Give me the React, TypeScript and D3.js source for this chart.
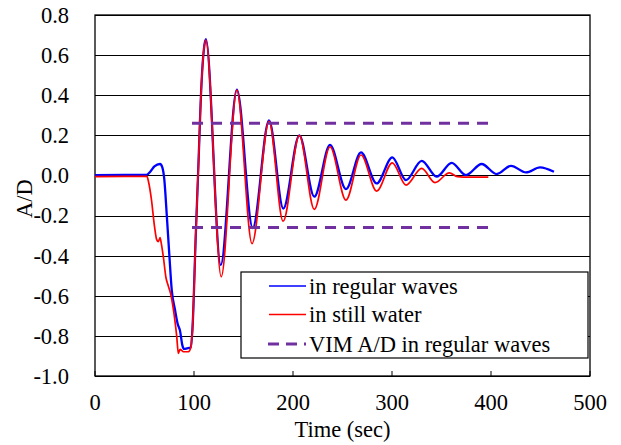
import React from "react";
import * as d3 from "d3";

// ---- data ----
const xTicks = [0, 100, 200, 300, 400, 500];
const yTicks = [-1.0, -0.8, -0.6, -0.4, -0.2, 0.0, 0.2, 0.4, 0.6, 0.8];

// A/D in regular waves (time sec, A/D)
const regularWaves: [number, number][] = [
  [0, 0.002], [30, 0.003], [52, 0.003], [56, 0.02], [60, 0.045], [65.7, 0.057],
  [68, 0.04], [70, -0.02], [72.4, -0.19], [75, -0.39], [77.5, -0.57], [80.8, -0.67],
  [83.5, -0.74], [85.9, -0.775], [88.2, -0.846], [90, -0.865], [93, -0.862],
  [96.5, -0.858], [98.5, -0.76], [101.7, -0.31], [104.3, 0.03], [107.5, 0.45],
  [110, 0.63], [112, 0.679], [127, -0.447], [143.3, 0.428], [159.3, -0.262],
  [175.8, 0.275], [190.2, -0.165], [206.4, 0.2], [221.5, -0.106], [237.4, 0.152],
  [253.5, -0.068], [268.7, 0.115], [284.5, -0.04], [300.3, 0.09], [314.1, -0.023],
  [330, 0.073], [345.1, -0.006], [360.3, 0.063], [374.7, 0.002], [390.6, 0.057],
  [405.7, 0.007], [420.2, 0.048], [435.4, 0.015], [449.5, 0.04], [463.6, 0.018],
];

// A/D in still water
const stillWater: [number, number][] = [
  [0, -0.006], [30, -0.005], [52.5, -0.005], [54, -0.03], [57, -0.12], [60, -0.25],
  [62.3, -0.32], [64, -0.33], [65.7, -0.31], [67, -0.34], [69, -0.405], [71.7, -0.51],
  [74, -0.55], [76.4, -0.59], [80.1, -0.7], [82.5, -0.8], [84.2, -0.887],
  [85.9, -0.867], [87.5, -0.872], [89.2, -0.879], [94.3, -0.879], [97, -0.854],
  [98.5, -0.76], [101.7, -0.31], [104.3, 0.03], [107.5, 0.45], [110, 0.63],
  [112, 0.675], [127.5, -0.505], [143.3, 0.425], [158.6, -0.34], [175.8, 0.27],
  [190, -0.228], [206.4, 0.2], [221.5, -0.169], [237.4, 0.143], [253.5, -0.123],
  [268.7, 0.102], [284.5, -0.078], [300.3, 0.063], [314.1, -0.048], [330, 0.035],
  [343.4, -0.036], [357.9, 0.013], [366, -0.006], [372, -0.008], [397.3, -0.008],
];

// VIM A/D in regular waves (band)
const vimLevels = [0.26, -0.26];
const vimRange = [98, 397];

const legendLabels = ["in regular waves", "in still water", "VIM A/D in regular waves"];

// ---- layout ----
const W = 621;
const H = 445;
const L = 95;
const R = 590;
const T = 15;
const B = 376;
const FONT = "'Liberation Serif', 'Times New Roman', serif";
const FS = 22.5;

export default function App() {
  const x = d3.scaleLinear().domain([0, 500]).range([L, R]);
  const y = d3.scaleLinear().domain([-1.0, 0.8]).range([B, T]);
  const line = d3
    .line<[number, number]>()
    .x((d) => x(d[0]))
    .y((d) => y(d[1]))
    .curve(d3.curveMonotoneX);

  const purple = "#7030A0";
  const legX = 241;
  const legY = 272;
  const legW = 347;
  const legH = 86;
  const rows = [286, 314.5, 344];

  return (
    <svg
      width={W}
      height={H}
      style={{ position: "absolute", left: 0, top: 0, background: "#fff" }}
      fontFamily={FONT}
    >
      <rect x={0} y={0} width={W} height={H} fill="#fff" />
      {/* gridlines */}
      {yTicks.map((t) => (
        <line
          key={"g" + t}
          x1={L}
          x2={R}
          y1={Math.round(y(t)) + 0.5}
          y2={Math.round(y(t)) + 0.5}
          stroke="#000"
          strokeWidth={1}
        />
      ))}
      {/* x ticks inward */}
      {xTicks.map((t) => (
        <line
          key={"xt" + t}
          x1={x(t)}
          x2={x(t)}
          y1={B}
          y2={B - 5}
          stroke="#000"
          strokeWidth={1}
        />
      ))}
      {/* plot frame */}
      <rect x={L} y={T} width={R - L} height={B - T} fill="none" stroke="#000" strokeWidth={1.3} />

      {/* series */}
      <path d={line(regularWaves) || ""} fill="none" stroke="#0000FF" strokeWidth={2.3} strokeLinejoin="round" />
      <path d={line(stillWater) || ""} fill="none" stroke="#FF0000" strokeWidth={1.7} strokeLinejoin="round" />
      {vimLevels.map((v) => (
        <line
          key={"v" + v}
          x1={x(vimRange[0])}
          x2={x(vimRange[1])}
          y1={y(v)}
          y2={y(v)}
          stroke={purple}
          strokeWidth={3}
          strokeDasharray="11,8"
        />
      ))}

      {/* y tick labels */}
      {yTicks.map((t) => (
        <text
          key={"yl" + t}
          x={69}
          y={y(t)}
          dy="0.35em"
          textAnchor="end"
          fontSize={FS}
          fill="#000"
        >
          {t.toFixed(1)}
        </text>
      ))}
      {/* x tick labels */}
      {xTicks.map((t) => (
        <text key={"xl" + t} x={x(t)} y={410} textAnchor="middle" fontSize={FS} fill="#000">
          {t}
        </text>
      ))}
      {/* axis titles */}
      <text x={(L + R) / 2} y={437} textAnchor="middle" fontSize={FS} fill="#000">
        Time (sec)
      </text>
      <text
        transform={`translate(32, ${(T + B) / 2 + 3}) rotate(-90)`}
        textAnchor="middle"
        fontSize={FS}
        fill="#000"
      >
        A/D
      </text>

      {/* legend */}
      <rect x={legX} y={legY} width={legW} height={legH} fill="#fff" stroke="#000" strokeWidth={1.2} />
      <line x1={269} x2={306} y1={rows[0]} y2={rows[0]} stroke="#0000FF" strokeWidth={1.5} />
      <line x1={269} x2={306} y1={rows[1]} y2={rows[1]} stroke="#FF0000" strokeWidth={1.5} />
      <line x1={268} x2={306} y1={rows[2]} y2={rows[2]} stroke={purple} strokeWidth={3} strokeDasharray="11,7" />
      {legendLabels.map((s, i) => (
        <text key={s} x={309} y={rows[i] + 7.5} fontSize={FS} fill="#000">
          {s}
        </text>
      ))}
    </svg>
  );
}
